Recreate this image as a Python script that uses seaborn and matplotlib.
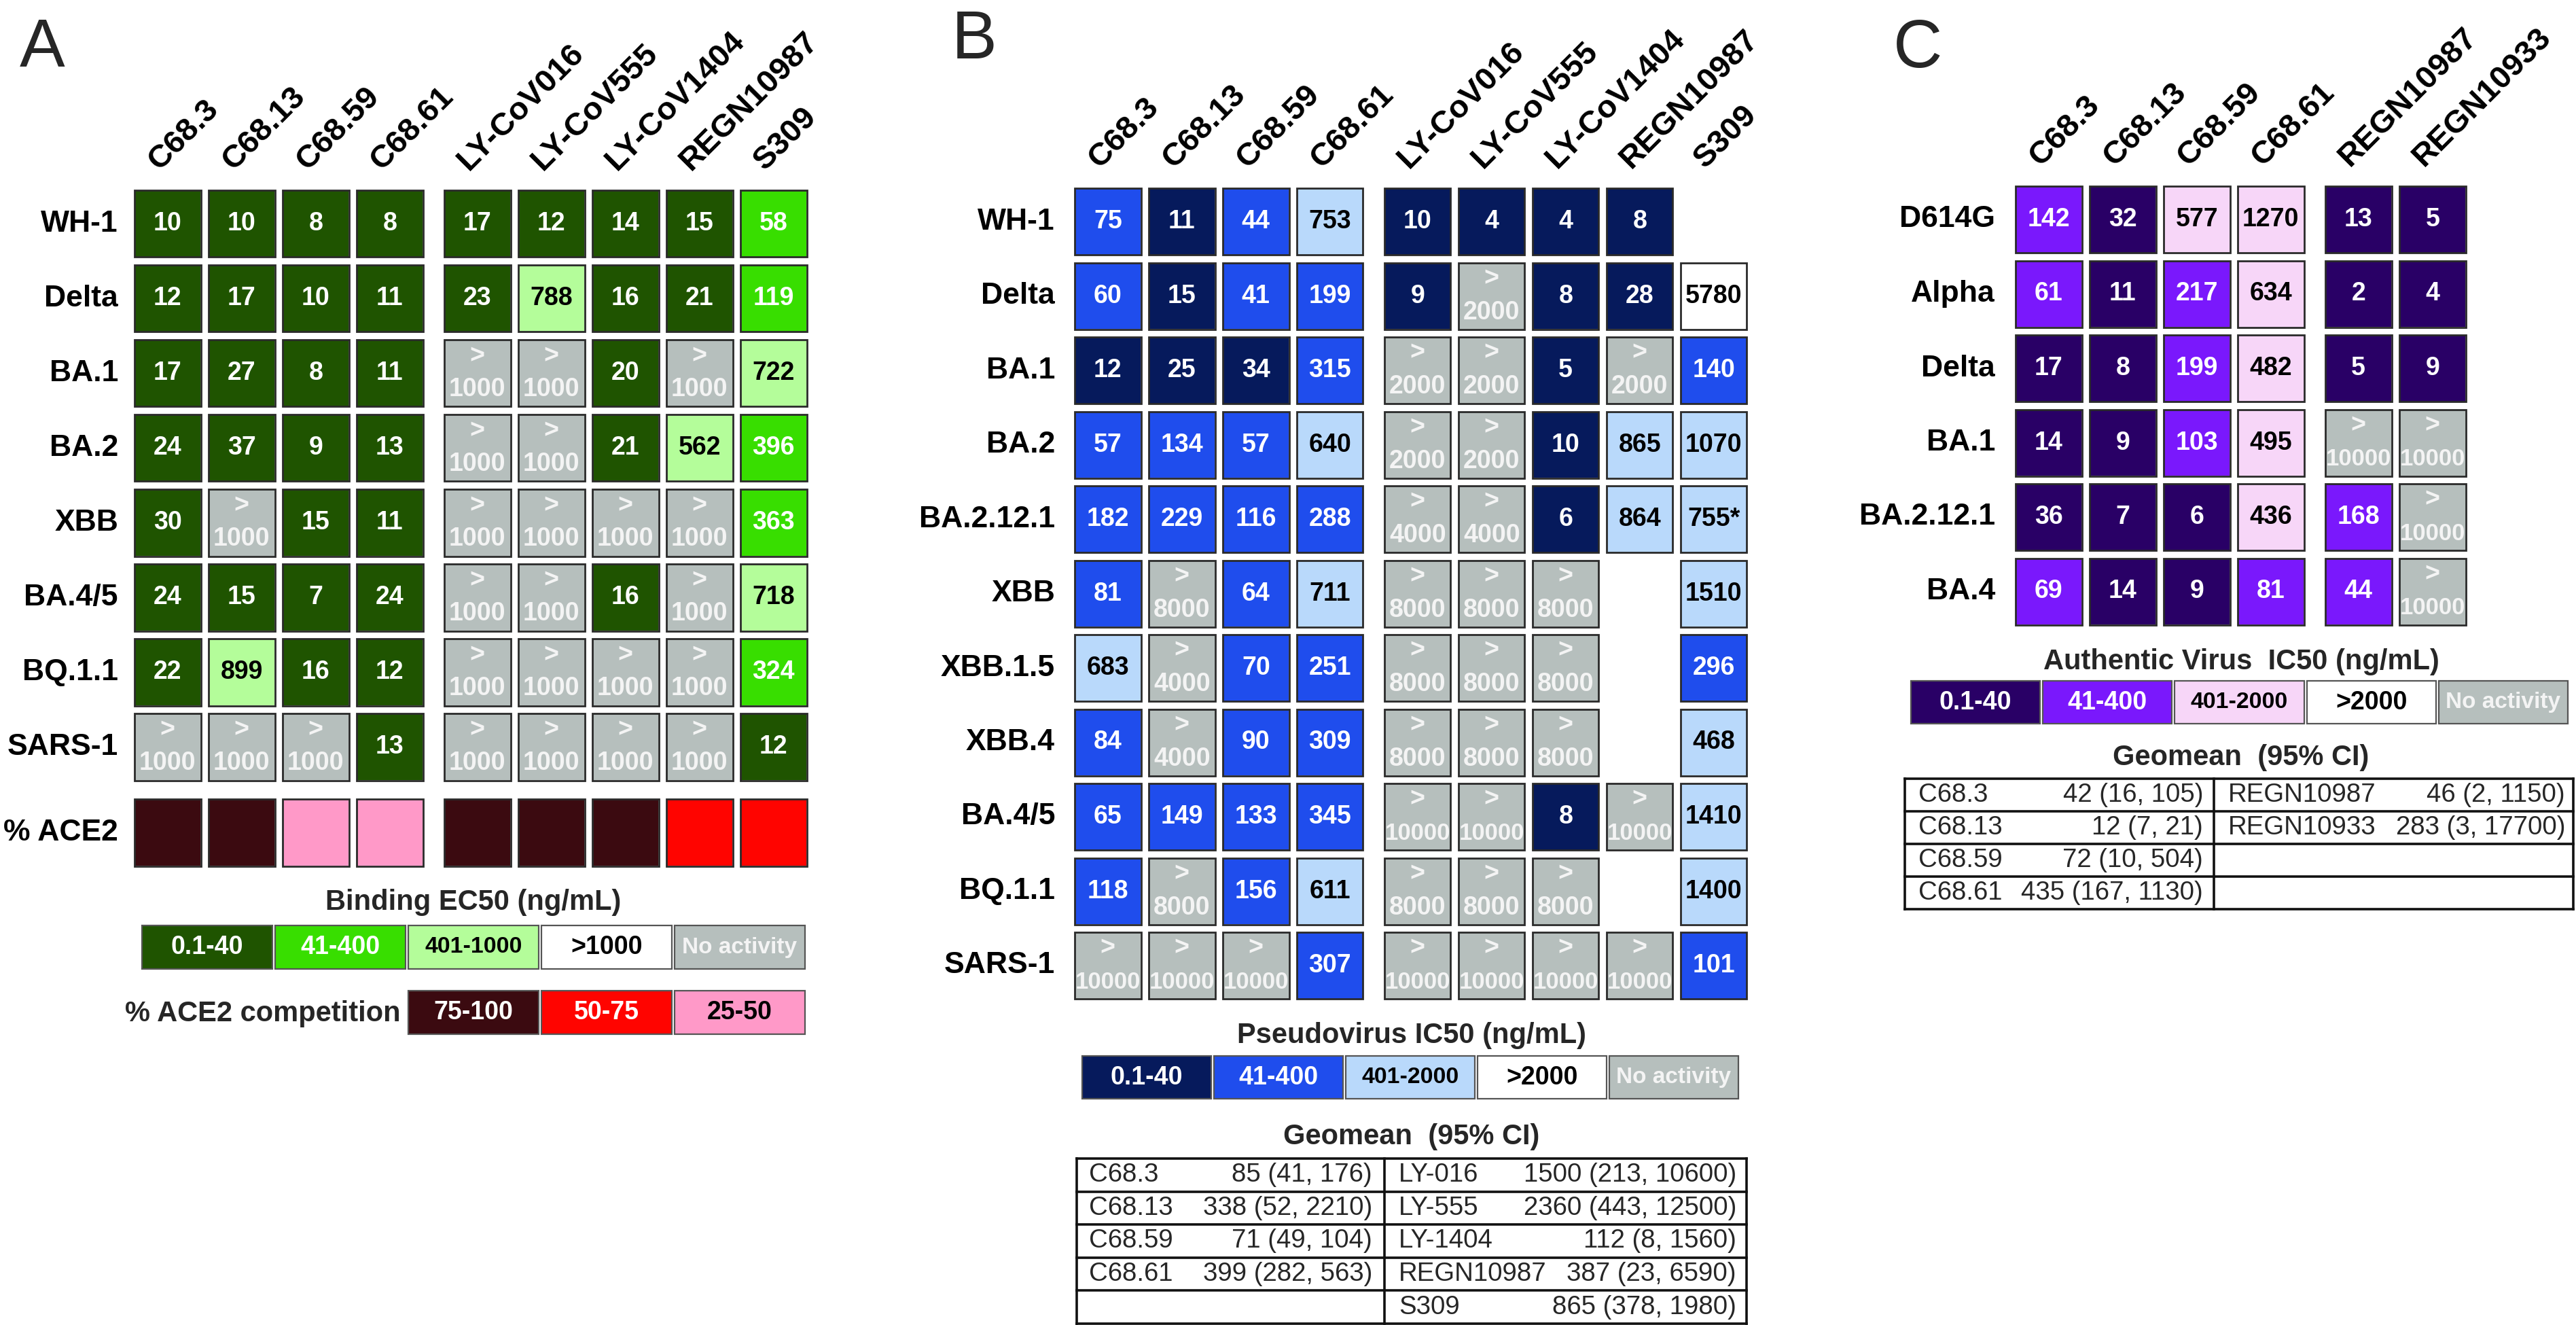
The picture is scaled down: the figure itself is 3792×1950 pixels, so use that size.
import numpy as np
import pandas as pd
import matplotlib
matplotlib.use("Agg")
import matplotlib.pyplot as plt
import seaborn as sns
from matplotlib.colors import ListedColormap
from matplotlib.patches import Rectangle
from matplotlib import font_manager as fm

# ---------------- data ----------------
AB_ANTIBODIES = ["C68.3", "C68.13", "C68.59", "C68.61",
                 "LY-CoV016", "LY-CoV555", "LY-CoV1404", "REGN10987", "S309"]
C_ANTIBODIES = ["C68.3", "C68.13", "C68.59", "C68.61", "REGN10987", "REGN10933"]

A_variants = ["WH-1", "Delta", "BA.1", "BA.2", "XBB", "BA.4/5", "BQ.1.1", "SARS-1"]
A_ec50 = [
    ["10", "10", "8", "8", "17", "12", "14", "15", "58"],
    ["12", "17", "10", "11", "23", "788", "16", "21", "119"],
    ["17", "27", "8", "11", ">1000", ">1000", "20", ">1000", "722"],
    ["24", "37", "9", "13", ">1000", ">1000", "21", "562", "396"],
    ["30", ">1000", "15", "11", ">1000", ">1000", ">1000", ">1000", "363"],
    ["24", "15", "7", "24", ">1000", ">1000", "16", ">1000", "718"],
    ["22", "899", "16", "12", ">1000", ">1000", ">1000", ">1000", "324"],
    [">1000", ">1000", ">1000", "13", ">1000", ">1000", ">1000", ">1000", "12"],
]
A_ace2 = ["75-100", "75-100", "25-50", "25-50", "75-100", "75-100", "75-100", "50-75", "50-75"]
A_bins = ["0.1-40", "41-400", "401-1000", ">1000", "No activity"]
A_ace2_bins = ["75-100", "50-75", "25-50"]

B_variants = ["WH-1", "Delta", "BA.1", "BA.2", "BA.2.12.1", "XBB", "XBB.1.5",
              "XBB.4", "BA.4/5", "BQ.1.1", "SARS-1"]
B_ic50 = [
    ["75", "11", "44", "753", "10", "4", "4", "8", None],
    ["60", "15", "41", "199", "9", ">2000", "8", "28", "5780"],
    ["12", "25", "34", "315", ">2000", ">2000", "5", ">2000", "140"],
    ["57", "134", "57", "640", ">2000", ">2000", "10", "865", "1070"],
    ["182", "229", "116", "288", ">4000", ">4000", "6", "864", "755*"],
    ["81", ">8000", "64", "711", ">8000", ">8000", ">8000", None, "1510"],
    ["683", ">4000", "70", "251", ">8000", ">8000", ">8000", None, "296"],
    ["84", ">4000", "90", "309", ">8000", ">8000", ">8000", None, "468"],
    ["65", "149", "133", "345", ">10000", ">10000", "8", ">10000", "1410"],
    ["118", ">8000", "156", "611", ">8000", ">8000", ">8000", None, "1400"],
    [">10000", ">10000", ">10000", "307", ">10000", ">10000", ">10000", ">10000", "101"],
]
BC_bins = ["0.1-40", "41-400", "401-2000", ">2000", "No activity"]
B_geo_left_names = ["C68.3", "C68.13", "C68.59", "C68.61", ""]
B_geo_left_vals = ["85 (41, 176)", "338 (52, 2210)", "71 (49, 104)", "399 (282, 563)", ""]
B_geo_right_names = ["LY-016", "LY-555", "LY-1404", "REGN10987", "S309"]
B_geo_right_vals = ["1500 (213, 10600)", "2360 (443, 12500)", "112 (8, 1560)",
                    "387 (23, 6590)", "865 (378, 1980)"]

C_variants = ["D614G", "Alpha", "Delta", "BA.1", "BA.2.12.1", "BA.4"]
C_ic50 = [
    ["142", "32", "577", "1270", "13", "5"],
    ["61", "11", "217", "634", "2", "4"],
    ["17", "8", "199", "482", "5", "9"],
    ["14", "9", "103", "495", ">10000", ">10000"],
    ["36", "7", "6", "436", "168", ">10000"],
    ["69", "14", "9", "81", "44", ">10000"],
]
C_geo_left_names = ["C68.3", "C68.13", "C68.59", "C68.61"]
C_geo_left_vals = ["42 (16, 105)", "12 (7, 21)", "72 (10, 504)", "435 (167, 1130)"]
C_geo_right_names = ["REGN10987", "REGN10933", "", ""]
C_geo_right_vals = ["46 (2, 1150)", "283 (3, 17700)", "", ""]

# ---------------- style ----------------
A_colors = ["#1f5400", "#38de00", "#b4fd9a", "#ffffff", "#b6bfbd"]
ACE2_colors = ["#3b0a10", "#ff0400", "#ff99c8"]
B_colors = ["#061a5c", "#1f4ded", "#b9d9fb", "#ffffff", "#b6bfbd"]
C_colors = ["#290066", "#7a18fc", "#f7d6f8", "#ffffff", "#b6bfbd"]
TXT5 = ["white", "white", "black", "black", "#f4f4f4"]
TXT3 = ["white", "white", "black"]

sns.set_theme(style="white")
plt.rcParams["font.family"] = ["Liberation Sans", "DejaVu Sans"]

_installed = {f.name for f in fm.fontManager.ttflist}
if "Liberation Sans Narrow" in _installed:
    TABLE_FAMILY, TABLE_SIZE = ["Liberation Sans Narrow", "Liberation Sans", "DejaVu Sans"], 14.5
else:
    TABLE_FAMILY, TABLE_SIZE = ["Liberation Sans", "DejaVu Sans"], 13.8

W, H, DPI = 3792, 1950, 200
fig = plt.figure(figsize=(W / DPI, H / DPI), dpi=DPI)
fig.patch.set_facecolor("white")


def frac_rect(x, y, w, h):
    return [x / W, 1 - (y + h) / H, w / W, h / H]


def fx(x):
    return x / W


def fy(y):
    return 1 - y / H


def categorize(s, upper):
    if s is None:
        return np.nan
    if s.startswith(">"):
        return 4
    v = float(s.rstrip("*"))
    if v <= 40:
        return 0
    if v <= 400:
        return 1
    if v <= upper:
        return 2
    return 3


def draw_cells(x0, y0, px, py, gap, codes, texts, colors, tcolors,
               row_labels=None, col_labels=None, split_gt=True,
               edge="#2a2a2a", elw=1.0, size=13.5, label_off=26):
    nr, nc = len(codes), len(codes[0])
    ax = fig.add_axes(frac_rect(x0 - gap / 2, y0 - gap / 2, nc * px, nr * py))
    df = pd.DataFrame(codes, dtype=float)
    sns.heatmap(df, ax=ax, mask=df.isna(), cmap=ListedColormap(colors),
                vmin=-0.5, vmax=len(colors) - 0.5, cbar=False,
                linewidths=gap * 72 / DPI, linecolor="white",
                xticklabels=False, yticklabels=False)
    ax.set_facecolor("white")
    gx, gy = gap / 2 / px, gap / 2 / py
    for i in range(nr):
        for j in range(nc):
            c = df.iat[i, j]
            if np.isnan(c):
                continue
            c = int(c)
            ax.add_patch(Rectangle((j + gx, i + gy), 1 - 2 * gx, 1 - 2 * gy,
                                   fill=False, ec=edge, lw=elw, zorder=3))
            if texts is None or texts[i][j] is None:
                continue
            s = texts[i][j]
            col = tcolors[c]
            if split_gt and s.startswith(">"):
                num = s[1:]
                ax.text(j + 0.5, i + 0.27, ">", ha="center", va="center",
                        color=col, fontsize=13.5, fontweight="bold", zorder=4)
                ax.text(j + 0.5, i + 0.72, num, ha="center", va="center",
                        color=col, fontsize=12.5 if len(num) >= 5 else 13.5,
                        fontweight="bold", zorder=4)
            else:
                fs = size if not isinstance(size, dict) else size.get(s, 13.5)
                ax.text(j + 0.5, i + 0.5, s, ha="center", va="center",
                        color=col, fontsize=fs, fontweight="bold", zorder=4)
    if row_labels is not None:
        for i, lab in enumerate(row_labels):
            ax.text(-(label_off - gap / 2) / px, i + 0.5, lab, ha="right", va="center",
                    fontsize=16, fontweight="bold", color="black")
    if col_labels is not None:
        for j, lab in enumerate(col_labels):
            ax.text(j + 0.5 - 13 / px, -(28 - gap / 2) / py, lab, rotation=45,
                    rotation_mode="anchor", ha="left", va="baseline",
                    fontsize=17, fontweight="bold", color="black")
    return ax


def draw_table(x0, y0, w, h, div, ln, lv, rn, rv, m=(20, 16, 21, 13)):
    ax = fig.add_axes(frac_rect(x0, y0, w, h))
    ax.set_xlim(0, w)
    ax.set_ylim(h, 0)
    ax.axis("off")
    n = max(len(ln), len(rn))
    rh = h / n
    for k in range(n + 1):
        ax.plot([0, w], [k * rh, k * rh], color="#111111", lw=1.3,
                clip_on=False, solid_capstyle="projecting")
    for xx in (0, div, w):
        ax.plot([xx, xx], [0, h], color="#111111", lw=1.3, clip_on=False,
                solid_capstyle="projecting")
    kw = dict(va="center", fontsize=TABLE_SIZE, family=TABLE_FAMILY)
    for k in range(n):
        yc = (k + 0.5) * rh
        ax.text(m[0], yc, ln[k], ha="left", **kw)
        ax.text(div - m[1], yc, lv[k], ha="right", **kw)
        ax.text(div + m[2], yc, rn[k], ha="left", **kw)
        ax.text(w - m[3], yc, rv[k], ha="right", **kw)
    return ax


PX, GAP, EXTRA = 109, 11.5, 20
legend_sizes = {"401-1000": 12.2, "401-2000": 12.2, "No activity": 12.0}

# ---------------- panel A ----------------
A_codes = [[categorize(v, 1000) for v in row] for row in A_ec50]
A_x1, A_y = 198, 280
A_x2 = A_x1 + 4 * PX + EXTRA
draw_cells(A_x1, A_y, PX, 110, GAP, [r[:4] for r in A_codes], [r[:4] for r in A_ec50],
           A_colors, TXT5, row_labels=A_variants, col_labels=AB_ANTIBODIES[:4], label_off=24)
draw_cells(A_x2, A_y, PX, 110, GAP, [r[4:] for r in A_codes], [r[4:] for r in A_ec50],
           A_colors, TXT5, col_labels=AB_ANTIBODIES[4:])
ace2_codes = [A_ace2_bins.index(v) for v in A_ace2]
draw_cells(A_x1, 1176, PX, 110, GAP, [ace2_codes[:4]], None, ACE2_colors, TXT3,
           row_labels=["% ACE2"], label_off=24)
draw_cells(A_x2, 1176, PX, 110, GAP, [ace2_codes[4:]], None, ACE2_colors, TXT3)

fig.text(fx(29), fy(98), "A", fontsize=36, ha="left", va="baseline")
fig.text(fx(697), fy(1328), "Binding EC50 (ng/mL)", ha="center", va="center",
         fontsize=15, fontweight="bold")
draw_cells(209, 1362, 196, 68, 4, [list(range(5))], [A_bins], A_colors, TXT5,
           split_gt=False, edge="#555555", elw=0.8, size=legend_sizes)
fig.text(fx(590), fy(1492), "% ACE2 competition", ha="right", va="center",
         fontsize=15, fontweight="bold")
draw_cells(601, 1458, 196, 68, 4, [list(range(3))], [A_ace2_bins], ACE2_colors, TXT3,
           split_gt=False, edge="#555555", elw=0.8, size=legend_sizes)

# ---------------- panel B ----------------
B_codes = [[categorize(v, 2000) for v in row] for row in B_ic50]
B_x1, B_y, B_py = 1582, 277, 109.5
B_x2 = B_x1 + 4 * PX + EXTRA
draw_cells(B_x1, B_y, PX, B_py, GAP, [r[:4] for r in B_codes], [r[:4] for r in B_ic50],
           B_colors, TXT5, row_labels=B_variants, col_labels=AB_ANTIBODIES[:4], label_off=29)
draw_cells(B_x2, B_y, PX, B_py, GAP, [r[4:] for r in B_codes], [r[4:] for r in B_ic50],
           B_colors, TXT5, col_labels=AB_ANTIBODIES[4:])
fig.text(fx(1401), fy(86), "B", fontsize=36, ha="left", va="baseline")
fig.text(fx(2078), fy(1524), "Pseudovirus IC50 (ng/mL)", ha="center", va="center",
         fontsize=15, fontweight="bold")
draw_cells(1593, 1554, 194, 67, 4, [list(range(5))], [BC_bins], B_colors, TXT5,
           split_gt=False, edge="#555555", elw=0.8, size=legend_sizes)
fig.text(fx(2078), fy(1673), "Geomean  (95% CI)", ha="center", va="center",
         fontsize=15, fontweight="bold")
draw_table(1585, 1705, 986, 243, 453, B_geo_left_names, B_geo_left_vals,
           B_geo_right_names, B_geo_right_vals, m=(18, 18, 21, 15))

# ---------------- panel C ----------------
C_codes = [[categorize(v, 2000) for v in row] for row in C_ic50]
C_x1, C_y, C_py = 2967, 274, 109.5
C_x2 = C_x1 + 4 * PX + EXTRA
draw_cells(C_x1, C_y, PX, C_py, GAP, [r[:4] for r in C_codes], [r[:4] for r in C_ic50],
           C_colors, TXT5, row_labels=C_variants, col_labels=C_ANTIBODIES[:4], label_off=30)
draw_cells(C_x2, C_y, PX, C_py, GAP, [r[4:] for r in C_codes], [r[4:] for r in C_ic50],
           C_colors, TXT5, col_labels=C_ANTIBODIES[4:])
fig.text(fx(2787), fy(99), "C", fontsize=36, ha="left", va="baseline")
fig.text(fx(3299), fy(974), "Authentic Virus  IC50 (ng/mL)", ha="center", va="center",
         fontsize=15, fontweight="bold")
draw_cells(2813, 1002, 194.2, 67, 4, [list(range(5))], [BC_bins], C_colors, TXT5,
           split_gt=False, edge="#555555", elw=0.8, size=legend_sizes)
fig.text(fx(3299), fy(1115), "Geomean  (95% CI)", ha="center", va="center",
         fontsize=15, fontweight="bold")
draw_table(2804, 1146, 984, 192, 455, C_geo_left_names, C_geo_left_vals,
           C_geo_right_names, C_geo_right_vals, m=(20, 16, 21, 12))

fig.savefig("out.png", dpi=DPI, facecolor="white")
